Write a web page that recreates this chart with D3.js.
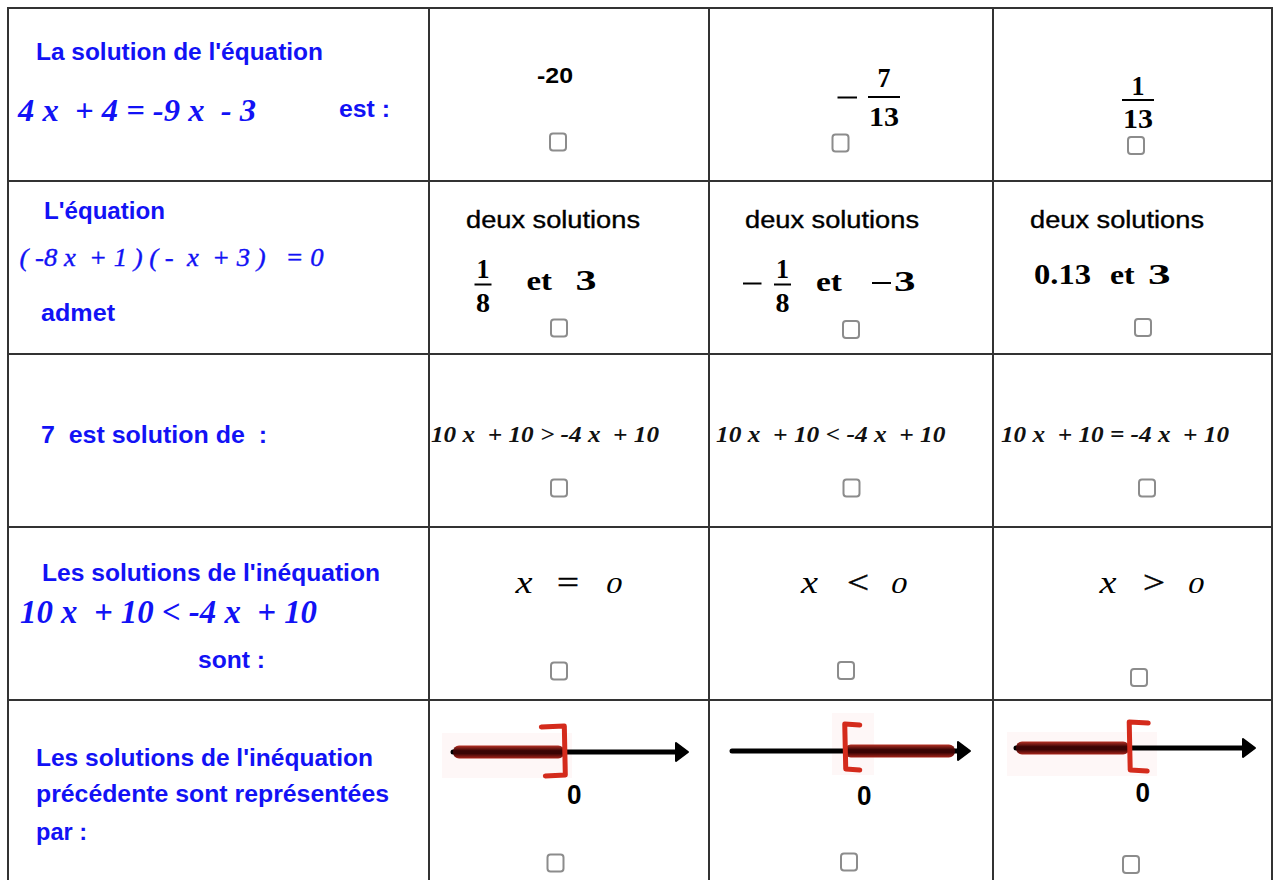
<!DOCTYPE html>
<html><head><meta charset="utf-8">
<script src="https://cdn.jsdelivr.net/npm/d3@7"></script>
<style>html,body{margin:0;padding:0;background:#fff;overflow:hidden} text{white-space:pre;font-variant-numeric:lining-nums;font-feature-settings:"lnum" 1, "onum" 0}</style>
</head><body><svg id="c" width="1276" height="880"></svg>
<script>
// ================= DATA =================
const questionLines = [
  ["La solution de l'équation", "4 x  + 4 = -9 x  - 3", "est :"],
  ["L'équation", "( -8 x  + 1 ) ( -  x  + 3 )   = 0", "admet"],
  ["7  est solution de  :"],
  ["Les solutions de l'inéquation", "10 x  + 10 < -4 x  + 10", "sont :"],
  ["Les solutions de l'inéquation", "précédente sont représentées", "par :"]
];
const q1Choices = ["-20", "−7/13", "1/13"];
const q2Header = "deux solutions";
const q2Joiner = "et";
const q2Choices = [["1/8", "3"], ["−1/8", "−3"], ["0.13", "3"]];
const q3Choices = ["10 x  + 10 > -4 x  + 10", "10 x  + 10 < -4 x  + 10", "10 x  + 10 = -4 x  + 10"];
const q4Choices = [["x", "=", "0"], ["x", "<", "0"], ["x", ">", "0"]];
const q5Intervals = [
  {from: -4.5, to: 0, bound: 0, bracket: "]"},
  {from: 0, to: 4.4, bound: 0, bracket: "["},
  {from: -4.5, to: 0, bound: 0, bracket: "["}
];
const axisDomain = [-4.5, 5];
const axisTickLabels = [{value: 0, label: "0"}];
const rowIds = [0, 1, 2, 3, 4];

// ================= LAYOUT / STYLE =================
const W = 1276, H = 880;
const SANS = "'Liberation Sans', Arial, sans-serif";
const SERIF = "'Liberation Serif', 'Times New Roman', serif";
const BLUE = "#1212f5";
const colEdge = d3.scaleOrdinal().domain([0, 1, 2, 3, 4]).range([8, 429, 709, 993, 1272]);
const rowEdge = d3.scaleOrdinal().domain([0, 1, 2, 3, 4, 5]).range([8, 181, 354, 527, 700, 905]);

const svg = d3.select("#c");
svg.append("rect").attr("width", W).attr("height", H).attr("fill", "#fff");

function txt(x, y, s, o) {
  const t = svg.append("text").attr("x", x).attr("y", y).text(s)
    .attr("xml:space", "preserve")
    .attr("font-family", o.serif ? SERIF : SANS)
    .attr("font-size", o.size)
    .attr("font-weight", o.bold ? "bold" : "normal")
    .attr("font-style", o.italic ? "italic" : "normal")
    .attr("fill", o.fill || "#000")
    .attr("text-anchor", o.anchor || "start");
  if (o.len) t.attr("textLength", o.len).attr("lengthAdjust", "spacingAndGlyphs");
  return t;
}
function hline(x1, x2, y, w, c) {
  svg.append("line").attr("x1", x1).attr("x2", x2).attr("y1", y).attr("y2", y)
    .attr("stroke", c || "#000").attr("stroke-width", w);
}
function checkbox(cx, cy) {
  svg.append("rect").attr("x", cx - 8).attr("y", cy - 8.5).attr("width", 16).attr("height", 17)
    .attr("rx", 3).attr("fill", "#fff").attr("stroke", "#8c8c8c").attr("stroke-width", 2);
}
function fraction(cx, yNum, yBar, yDen, num, den, size, barHalf, lenNum, lenDen) {
  txt(cx, yNum, num, {serif: true, bold: true, size: size, anchor: "middle", len: lenNum});
  hline(cx - barHalf, cx + barHalf, yBar, 2);
  txt(cx, yDen, den, {serif: true, bold: true, size: size, anchor: "middle", len: lenDen});
}

// ---------- question column ----------
const qLayout = [
  [{x: 36, y: 60, len: 287}, {x: 18, y: 121, len: 238, math: 31, bold: true}, {x: 339, y: 117, len: 51}],
  [{x: 44, y: 219, len: 121}, {x: 19.5, y: 266, len: 304, math: 26, bold: false}, {x: 41, y: 321, len: 74}],
  [{x: 41, y: 443, len: 226}],
  [{x: 42, y: 581, len: 338}, {x: 20, y: 623, len: 297, math: 34, bold: true}, {x: 198, y: 668, len: 67}],
  [{x: 36, y: 766, len: 337}, {x: 36, y: 802, len: 353}, {x: 36, y: 840, len: 51}]
];
questionLines.forEach((lines, r) => {
  lines.forEach((s, i) => {
    const L = qLayout[r][i];
    if (L.math) {
      const t = txt(L.x, L.y, s, {serif: true, italic: true, bold: L.bold, size: L.math, fill: BLUE, len: L.len});
      if (!L.bold) t.attr("stroke", BLUE).attr("stroke-width", 0.4);
    } else txt(L.x, L.y, s, {bold: true, size: 23, fill: BLUE, len: L.len});
  });
});

// ---------- row 1 ----------
txt(555, 83, q1Choices[0], {bold: true, size: 22, anchor: "middle", len: 36});
[{cx: 884, neg: [837.5, 857, 97.5], yNum: 86.5, yBar: 97, yDen: 126, half: 16},
 {cx: 1138, neg: null, yNum: 95, yBar: 100, yDen: 128, half: 16}].forEach((L, i) => {
  const s = q1Choices[i + 1];
  const neg = s.startsWith("−");
  const [num, den] = s.replace("−", "").split("/");
  if (neg) hline(L.neg[0], L.neg[1], L.neg[2], 2);
  fraction(L.cx, L.yNum, L.yBar, L.yDen, num, den, 28, L.half, num.length * 13, den.length * 15);
});

// ---------- row 2 ----------
const q2Layout = [
  {hx: 466, fr: {cx: 483, negX: null}, etX: 526.5, etLen: 25.5, vX: 575.5, vNeg: null, vLen: 21, yEt: 290},
  {hx: 745, fr: {cx: 782.5, negX: [743, 761.5]}, etX: 816, etLen: 26, vX: 894, vNeg: [872, 891], vLen: 21.5, yEt: 290.5},
  {hx: 1030, dec: {x: 1034, len: 57}, etX: 1110, etLen: 24.7, vX: 1148, vNeg: null, vLen: 22.6, yEt: 284}
];
q2Choices.forEach((c, i) => {
  const L = q2Layout[i];
  txt(L.hx, 228, q2Header, {size: 23, len: 174}).attr("stroke", "#000").attr("stroke-width", 0.35);
  const a = c[0], b = c[1];
  if (a.includes("/")) {
    const neg = a.startsWith("−");
    const [num, den] = a.replace("−", "").split("/");
    if (neg) hline(L.fr.negX[0], L.fr.negX[1], 283.5, 2);
    fraction(L.fr.cx, 277.5, 284.5, 311.5, num, den, 27, 8.5, 13, 14);
  } else {
    txt(L.dec.x, L.yEt, a, {serif: true, bold: true, size: 29, len: L.dec.len});
  }
  txt(L.etX, L.yEt, q2Joiner, {serif: true, bold: true, size: 27, len: L.etLen});
  if (b.startsWith("−")) hline(L.vNeg[0], L.vNeg[1], 283, 2);
  txt(L.vX, L.yEt, b.replace("−", ""), {serif: true, bold: true, size: 29, len: L.vLen});
});

// ---------- row 3 ----------
const q3Layout = [{x: 431, len: 228}, {x: 716, len: 229.5}, {x: 1001, len: 228}];
q3Choices.forEach((s, i) => {
  txt(q3Layout[i].x, 442, s, {serif: true, italic: true, bold: true, size: 24, len: q3Layout[i].len})
    .attr("fill", "#111");
});

// ---------- row 4 ----------
const q4Layout = [[524, 568, 614], [809.5, 858, 899], [1108, 1154, 1196]];
q4Choices.forEach((tok, i) => {
  txt(q4Layout[i][0], 593, tok[0], {serif: true, italic: true, size: 32, anchor: "middle", len: 17});
  txt(q4Layout[i][1], 593, tok[1], {serif: true, size: 32, anchor: "middle", len: 22})
    .attr("stroke", "#000").attr("stroke-width", 0.5);
  txt(q4Layout[i][2], 593, tok[2], {serif: true, italic: true, size: 24, anchor: "middle", len: 16});
});

// ---------- row 5 : number lines ----------
const defs = svg.append("defs");
const grad = defs.append("linearGradient").attr("id", "seg").attr("x1", 0).attr("y1", 0).attr("x2", 0).attr("y2", 1);
grad.append("stop").attr("offset", "0%").attr("stop-color", "#b83226");
grad.append("stop").attr("offset", "40%").attr("stop-color", "#3a0404");
grad.append("stop").attr("offset", "62%").attr("stop-color", "#3a0404");
grad.append("stop").attr("offset", "100%").attr("stop-color", "#a8241a");

const q5Layout = [
  {range: [453, 688], y: 752, br: {top: -27, bot: 24, topLen: 23, botLen: 19}, lab: {dx: 10, y: 804}, bg: [442, 733, 130, 45]},
  {range: [732, 970], y: 751, br: {top: -28, bot: 19, topLen: 15, botLen: 15}, lab: {dx: 19.5, y: 805}, bg: [832, 713, 42, 62]},
  {range: [1016, 1255], y: 748, br: {top: -27, bot: 23, topLen: 19, botLen: 18}, lab: {dx: 13.5, y: 802}, bg: [1007, 732, 150, 44]}
];
q5Intervals.forEach((iv, i) => {
  const L = q5Layout[i];
  const x = d3.scaleLinear().domain(axisDomain).range(L.range);
  svg.append("rect").attr("x", L.bg[0]).attr("y", L.bg[1]).attr("width", L.bg[2]).attr("height", L.bg[3])
    .attr("fill", "#fef7f7");
  svg.append("line").attr("x1", x(axisDomain[0])).attr("x2", x(axisDomain[1]) - 6)
    .attr("y1", L.y).attr("y2", L.y).attr("stroke", "#000").attr("stroke-width", 5)
    .attr("stroke-linecap", "round");
  const tip = x(axisDomain[1]);
  svg.append("path").attr("d", `M${tip - 12},${L.y - 9} L${tip},${L.y} L${tip - 12},${L.y + 9} Z`)
    .attr("fill", "#000").attr("stroke", "#000").attr("stroke-width", 2).attr("stroke-linejoin", "round");
  svg.append("rect").attr("x", x(iv.from)).attr("y", L.y - 6.5)
    .attr("width", x(iv.to) - x(iv.from)).attr("height", 13).attr("rx", 6)
    .attr("fill", "url(#seg)");
  const bx = x(iv.bound);
  const dir = iv.bracket === "]" ? -1 : 1;
  svg.append("path")
    .attr("d", `M${bx + dir * L.br.topLen},${L.y + L.br.top + 2} L${bx},${L.y + L.br.top + 1} L${bx + 1},${L.y + L.br.bot - 1} L${bx + dir * L.br.botLen},${L.y + L.br.bot}`)
    .attr("fill", "none").attr("stroke", "#d42b1c").attr("stroke-width", 5)
    .attr("stroke-linecap", "round").attr("stroke-linejoin", "round");
  axisTickLabels.forEach(t => {
    txt(x(t.value) + L.lab.dx, L.lab.y, t.label, {bold: true, size: 28, anchor: "middle", len: 14.5});
  });
});

// ---------- checkboxes ----------
const boxCenters = [
  [[558, 142], [840.5, 143], [1136, 145.5]],
  [[559, 328], [851, 329.5], [1143, 327.5]],
  [[559, 488], [851.5, 488], [1147, 488]],
  [[559, 671], [846, 670.5], [1139, 677.5]],
  [[555.5, 863], [849, 862], [1131, 864.5]]
];
boxCenters.forEach(row => row.forEach(([cx, cy]) => checkbox(cx, cy)));

// ---------- grid ----------
const grid = svg.append("g").attr("stroke", "#333").attr("stroke-width", 2);
rowIds.forEach(r => {
  grid.append("line").attr("x1", colEdge(0)).attr("x2", colEdge(4))
    .attr("y1", rowEdge(r)).attr("y2", rowEdge(r));
});
[0, 1, 2, 3, 4].forEach(c => {
  grid.append("line").attr("x1", colEdge(c)).attr("x2", colEdge(c))
    .attr("y1", rowEdge(0) - 1).attr("y2", rowEdge(5));
});
</script></body></html>
